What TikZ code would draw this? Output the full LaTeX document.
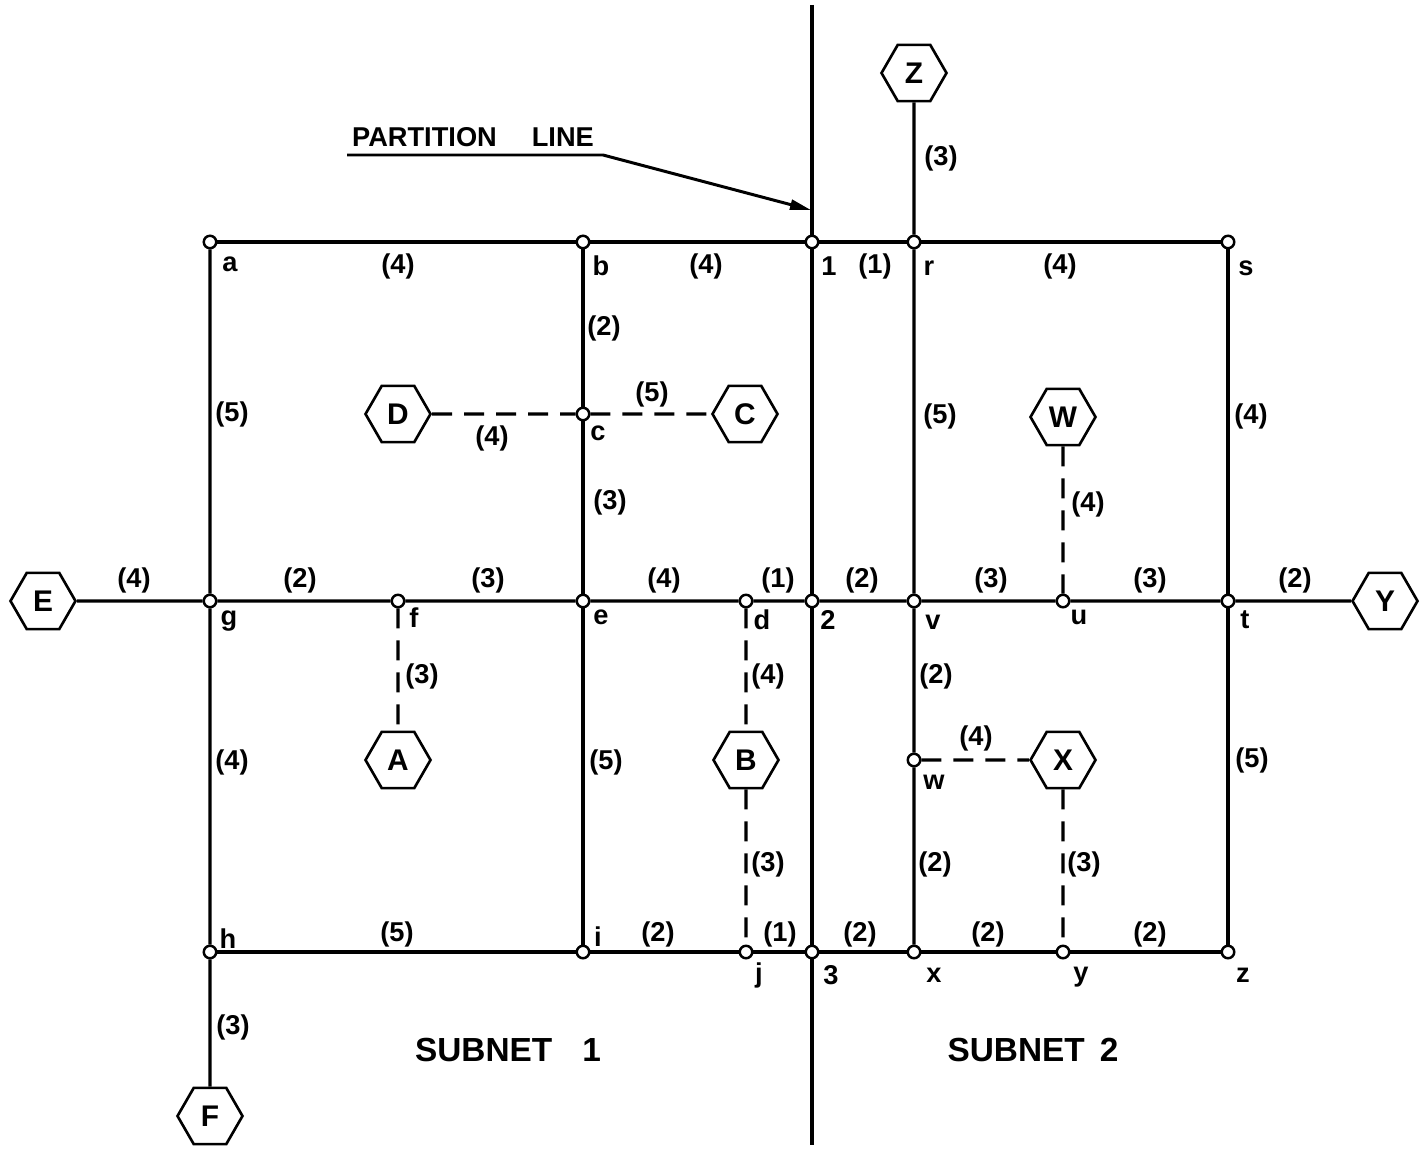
\documentclass[tikz,border=0pt]{standalone}
\usepackage{fontspec}
\setmainfont{Liberation Sans}
\usetikzlibrary{shapes.geometric,arrows.meta}
\begin{document}
\begin{tikzpicture}[x=0.02cm,y=-0.02cm,
  pt/.style={circle,draw,fill=white,line width=1.4pt,minimum size=0.25cm,inner sep=0pt},
  hex/.style={regular polygon,regular polygon sides=6,draw,line width=1.5pt,minimum size=1.3cm,inner sep=0pt,font=\bfseries\fontsize{17}{17}\selectfont},
  lbl/.style={inner sep=0pt,font=\bfseries\fontsize{15.5}{15.5}\selectfont},
  big/.style={inner sep=0pt,font=\bfseries\fontsize{19}{19}\selectfont},
  wire/.style={line width=1.9pt},
  dwire/.style={line width=1.9pt,dash pattern=on 0.4cm off 0.24cm},
]
\useasboundingbox (0,0) rectangle (1426,1149);
% points
\node[pt] (a) at (210,242) {};
\node[pt] (b) at (583,242) {};
\node[pt] (n1) at (812,242) {};
\node[pt] (r) at (914,242) {};
\node[pt] (s) at (1228,242) {};
\node[pt] (c) at (583,414) {};
\node[pt] (g) at (210,601) {};
\node[pt] (f) at (398,601) {};
\node[pt] (e) at (583,601) {};
\node[pt] (d) at (746,601) {};
\node[pt] (n2) at (812,601) {};
\node[pt] (v) at (914,601) {};
\node[pt] (u) at (1063,601) {};
\node[pt] (t) at (1228,601) {};
\node[pt] (w) at (914,760) {};
\node[pt] (h) at (210,952) {};
\node[pt] (i) at (583,952) {};
\node[pt] (j) at (746,952) {};
\node[pt] (n3) at (812,952) {};
\node[pt] (x) at (914,952) {};
\node[pt] (y) at (1063,952) {};
\node[pt] (z) at (1228,952) {};
% hexagons
\node[hex] (Z) at (914,73) {Z};
\node[hex] (D) at (398,414) {D};
\node[hex] (C) at (745,414) {C};
\node[hex] (W) at (1063,417) {W};
\node[hex] (E) at (43,601) {E};
\node[hex] (Y) at (1385,601) {Y};
\node[hex] (A) at (398,760) {A};
\node[hex] (B) at (746,760) {B};
\node[hex] (X) at (1063,760) {X};
\node[hex] (F) at (210,1116) {F};
% partition line
\coordinate (ptop) at (812,5);
\coordinate (pbot) at (812,1145);
\draw[wire] (ptop) -- (n1) -- (n2) -- (n3) -- (pbot);
% solid links
\draw[wire] (a) -- (b) -- (n1) -- (r) -- (s);
\draw[wire] (E) -- (g) -- (f) -- (e) -- (d) -- (n2) -- (v) -- (u) -- (t) -- (Y);
\draw[wire] (h) -- (i) -- (j) -- (n3) -- (x) -- (y) -- (z);
\draw[wire] (a) -- (g) -- (h) -- (F);
\draw[wire] (b) -- (c) -- (e) -- (i);
\draw[wire] (Z) -- (r) -- (v) -- (w) -- (x);
\draw[wire] (s) -- (t) -- (z);
% dashed links
\draw[dwire] (D) -- (c);
\draw[dwire] (c) -- (C);
\draw[dwire] (f) -- (A);
\draw[dwire] (d) -- (B);
\draw[dwire] (B) -- (j);
\draw[dwire] (W) -- (u);
\draw[dwire] (w) -- (X);
\draw[dwire] (X) -- (y);
% partition label
\node[lbl] (plab) at (473,137) {PARTITION\hspace{0.7cm}LINE};
\coordinate (pl1) at (347,155);
\coordinate (pl2) at (603,155);
\coordinate (ptip) at (811,210);
\draw[line width=1.7pt,-{Triangle[length=0.42cm,width=0.2cm]}] (pl1) -- (pl2) -- (ptip);
% point names
\node[lbl] (la) at (230,264) {a};
\node[lbl] (lb) at (601,266) {b};
\node[lbl] (l1) at (829,266) {1};
\node[lbl] (lr) at (929,268) {r};
\node[lbl] (ls) at (1246,268) {s};
\node[lbl] (lc) at (598,433) {c};
\node[lbl] (lg) at (229,621) {g};
\node[lbl] (lf) at (414,618) {f};
\node[lbl] (le) at (601,617) {e};
\node[lbl] (ld) at (762,620) {d};
\node[lbl] (l2) at (828,620) {2};
\node[lbl] (lv) at (933,622) {v};
\node[lbl] (lu) at (1079,617) {u};
\node[lbl] (lt) at (1245,620) {t};
\node[lbl] (lw) at (934,782) {w};
\node[lbl] (lh) at (228,939) {h};
\node[lbl] (li) at (598,937) {i};
\node[lbl] (lj) at (759,975) {j};
\node[lbl] (l3) at (831,975) {3};
\node[lbl] (lx) at (934,975) {x};
\node[lbl] (ly) at (1081,977) {y};
\node[lbl] (lz) at (1243,975) {z};
% weights
\node[lbl] (w1) at (398,266) {(4)};
\node[lbl] (w2) at (706,266) {(4)};
\node[lbl] (w3) at (875,266) {(1)};
\node[lbl] (w4) at (1060,266) {(4)};
\node[lbl] (w5) at (941,158) {(3)};
\node[lbl] (w6) at (604,328) {(2)};
\node[lbl] (w7) at (232,414) {(5)};
\node[lbl] (w8) at (492,438) {(4)};
\node[lbl] (w9) at (652,394) {(5)};
\node[lbl] (w10) at (610,502) {(3)};
\node[lbl] (w11) at (940,416) {(5)};
\node[lbl] (w12) at (1251,416) {(4)};
\node[lbl] (w13) at (1088,504) {(4)};
\node[lbl] (w14) at (134,580) {(4)};
\node[lbl] (w15) at (300,580) {(2)};
\node[lbl] (w16) at (488,580) {(3)};
\node[lbl] (w17) at (664,580) {(4)};
\node[lbl] (w18) at (778,580) {(1)};
\node[lbl] (w19) at (862,580) {(2)};
\node[lbl] (w20) at (991,580) {(3)};
\node[lbl] (w21) at (1150,580) {(3)};
\node[lbl] (w22) at (1295,580) {(2)};
\node[lbl] (w23) at (422,676) {(3)};
\node[lbl] (w24) at (768,676) {(4)};
\node[lbl] (w25) at (936,676) {(2)};
\node[lbl] (w26) at (232,762) {(4)};
\node[lbl] (w27) at (606,762) {(5)};
\node[lbl] (w28) at (976,738) {(4)};
\node[lbl] (w29) at (1252,760) {(5)};
\node[lbl] (w30) at (768,864) {(3)};
\node[lbl] (w31) at (935,864) {(2)};
\node[lbl] (w32) at (1084,864) {(3)};
\node[lbl] (w33) at (397,934) {(5)};
\node[lbl] (w34) at (658,934) {(2)};
\node[lbl] (w35) at (780,934) {(1)};
\node[lbl] (w36) at (860,934) {(2)};
\node[lbl] (w37) at (988,934) {(2)};
\node[lbl] (w38) at (1150,934) {(2)};
\node[lbl] (w39) at (233,1027) {(3)};
% subnet titles
\node[big] (s1) at (508,1050) {SUBNET\hspace{0.6cm}1};
\node[big] (s2) at (1033,1050) {SUBNET\hspace{0.3cm}2};
\end{tikzpicture}
\end{document}
